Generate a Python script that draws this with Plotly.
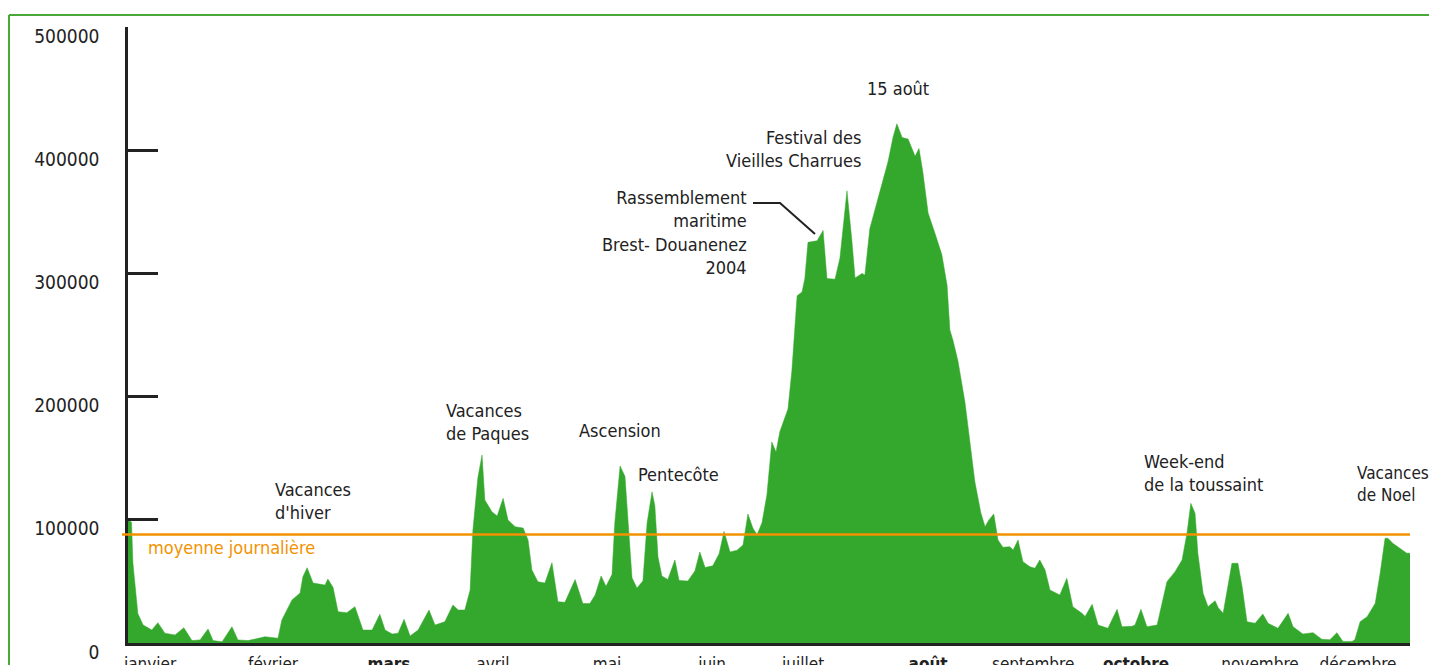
import plotly.graph_objects as go

# ---- data (day of year, daily visitors) ----
days = [0, 1, 1.4, 2.8, 4.3, 6.8, 8.5, 10.5, 13.4, 15.9, 18.2, 20.5, 22.8, 24.2, 26.8, 29.6, 31.3, 34.2,
        36.2, 39.0, 42.7, 43.8, 46.7, 49.0, 49.8, 51.0, 52.7, 56.1, 56.9, 58.4, 59.8, 62.3, 64.6, 66.9,
        69.5, 71.7, 73.2, 75.2, 76.9, 78.6, 80.3, 82.6, 85.7, 87.4, 90.2, 92.5, 94.0, 95.9, 97.4, 98.2,
        99.6, 100.8, 101.6, 103.6, 105.1, 106.8, 108.2, 110.2, 112.5, 113.9, 115.0, 116.7, 118.7, 120.7,
        122.4, 124.4, 127.3, 129.5, 131.5, 133.0, 134.7, 136.1, 137.8, 138.6, 140.1, 141.5, 142.4, 143.5,
        144.9, 146.6, 147.8, 149.2, 150.0, 150.9, 152.0, 153.7, 155.7, 156.9, 159.4, 161.4, 162.8, 164.3,
        166.5, 168.3, 169.7, 171.4, 173.4, 175.1, 176.5, 177.9, 179.1, 180.5, 181.9, 183.3, 184.5, 185.6,
        187.9, 189.0, 190.5, 191.9, 192.7, 193.6, 196.2, 197.9, 199.0, 201.3, 202.7, 204.7, 206.1, 207.0,
        209.0, 209.8, 211.2, 212.7, 214.7, 216.4, 217.8, 218.9, 220.4, 222.1, 224.1, 225.2, 226.3, 227.8,
        229.8, 231.7, 233.2, 234.0, 234.9, 236.3, 238.3, 239.7, 241.1, 242.8, 244.0, 245.1, 246.5, 247.7,
        249.1, 251.1, 252.0, 253.4, 254.8, 256.8, 258.2, 259.6, 261.1, 262.5, 265.3, 267.3, 269.0, 271.6,
        272.5, 274.5, 276.2, 279.0, 281.6, 283.0, 285.8, 286.7, 288.4, 290.1, 293.0, 294.4, 295.8, 298.1,
        300.1, 301.5, 302.6, 303.8, 304.6, 306.1, 307.5, 309.5, 310.4, 311.8, 312.9, 314.3, 316.0, 317.2,
        318.6, 320.9, 323.1, 324.6, 327.4, 328.8, 330.3, 331.7, 334.5, 337.4, 339.9, 342.2, 344.2, 345.9,
        348.5, 349.3, 350.8, 352.8, 355.1, 356.5, 357.9, 358.7, 360.1, 362.1, 364.1, 365.0]

visitors = [100000, 98000, 65000, 24000, 14600, 10500, 16500, 8000, 6500, 12400, 2000, 2500, 11400, 2000,
            1000, 13200, 2500, 2000, 3200, 5100, 3900, 18700, 35000, 40600, 53800, 61100, 48700, 47000,
            51900, 45000, 25400, 24600, 29500, 10500, 10500, 23300, 10500, 7300, 8000, 19200, 5700, 10500,
            26800, 14600, 17300, 30800, 26800, 26800, 43000, 91700, 134000, 152600, 116000, 106600, 103100,
            117400, 99800, 94400, 93300, 83600, 59300, 49800, 48700, 65200, 33500, 33000, 51500, 32000,
            32000, 39000, 54400, 46000, 55700, 97600, 143700, 135200, 97600, 52900, 44600, 50300, 97600,
            122700, 111500, 69800, 54400, 51500, 67400, 50800, 50300, 58400, 73900, 61300, 62700, 72400,
            90600, 73900, 75300, 79500, 104700, 93300, 87800, 97600, 120100, 163200, 155000, 171600, 189900,
            220500, 281800, 284900, 295800, 325200, 326500, 334900, 295800, 295300, 312500, 367000, 326500,
            296300, 300000, 298600, 336300, 351600, 372600, 390800, 410300, 421400, 410300, 409000, 395000,
            401400, 382300, 349000, 332100, 315300, 290300, 254100, 245500, 228900, 195300, 164800, 131100,
            105900, 94400, 99800, 104700, 83600, 77700, 78200, 75500, 83600, 66000, 61900, 60600, 67400,
            59300, 43000, 39000, 52500, 29500, 24100, 21600, 31400, 14600, 11900, 27300, 13200, 13500,
            14600, 27300, 13200, 14600, 32200, 49800, 57900, 67400, 89000, 113400, 105300, 72800, 40300,
            29500, 34300, 28700, 24100, 43000, 64700, 64700, 45700, 17300, 16000, 23500, 16000, 11900,
            17300, 24100, 13200, 7300, 8400, 3000, 2700, 8400, 1300, 1300, 2700, 17300, 21400, 32200, 56600,
            85000, 85000, 80900, 76900, 72800, 72800]

moyenne = 88000  # moyenne journalière

month_days = [6.3, 41.3, 74.3, 103.9, 136.4, 166.3, 192.2, 227.8, 257.7, 287.0, 322.3, 350.2]
month_labels = ["janvier", "février", "<b>mars</b>", "avril", "mai", "juin", "juillet", "<b>août</b>",
                "septembre", "<b>octobre</b>", "novembre", "décembre"]

y_ticks = [0, 100000, 200000, 300000, 400000, 500000]

FONT = "DejaVu Sans Condensed, Liberation Sans Narrow, Arial Narrow, sans-serif"
GREEN = "#34a82c"
ORANGE = "#f39200"
DARK = "#222222"

W, H = 1437, 665
OFF = 8  # page body margin
# plot area in page pixels
L, R, T, B = 128, 1410, 27, 643


def px(x):
    return (x - L) / (R - L)


def py(y):
    return (B - y) / (B - T)


fig = go.Figure()
fig.add_trace(go.Scatter(x=days, y=visitors, mode="lines", fill="tozeroy",
                         line=dict(color=GREEN, width=0.5), fillcolor=GREEN,
                         hoverinfo="x+y", showlegend=False))

shapes = [
    dict(type="line", xref="paper", yref="y", x0=px(122), x1=1, y0=moyenne, y1=moyenne,
         line=dict(color=ORANGE, width=2.5)),
    dict(type="line", xref="paper", yref="paper", x0=px(9), x1=px(1450), y0=py(15), y1=py(15),
         line=dict(color="#4aa83a", width=2)),
    dict(type="line", xref="paper", yref="paper", x0=px(9), x1=px(9), y0=py(15), y1=py(690),
         line=dict(color="#4aa83a", width=2)),
    dict(type="path", xref="paper", yref="paper",
         path=f"M {px(753)},{py(203)} L {px(780)},{py(203)} L {px(815)},{py(234)}",
         line=dict(color=DARK, width=2)),
]

ann_font = dict(family=FONT, size=18, color=DARK)
annotations = [
    dict(text="Vacances<br>d'hiver", x=px(273), y=py(501), xanchor="left", align="left"),
    dict(text="Vacances<br>de Paques", x=px(444), y=py(422), xanchor="left", align="left"),
    dict(text="Ascension", x=px(577), y=py(430), xanchor="left", align="left"),
    dict(text="Pentecôte", x=px(636), y=py(474), xanchor="left", align="left"),
    dict(text="Rassemblement<br>maritime<br>Brest- Douanenez<br>2004", x=px(749), y=py(233),
         xanchor="right", align="right"),
    dict(text="Festival des<br>Vieilles Charrues", x=px(863), y=py(149), xanchor="right", align="right"),
    dict(text="15 août", x=px(898), y=py(88), xanchor="center", align="center"),
    dict(text="Week-end<br>de la toussaint", x=px(1142), y=py(473), xanchor="left", align="left"),
    dict(text="Vacances<br>de Noel", x=px(1355), y=py(484), xanchor="left", align="left",
         font=dict(family=FONT, size=17, color=DARK)),
]
for a in annotations:
    a.setdefault("font", ann_font)
    a.update(xref="paper", yref="paper", yanchor="middle", showarrow=False)
annotations.append(dict(text="moyenne journalière", x=px(146), y=py(547), xref="paper", yref="paper",
                        xanchor="left", yanchor="middle", showarrow=False,
                        font=dict(family=FONT, size=18, color=ORANGE)))

fig.update_layout(
    width=W, height=H,
    margin=dict(l=L - OFF, r=W - (R - OFF), t=T - OFF, b=H - (B - OFF), pad=0, autoexpand=False),
    paper_bgcolor="white", plot_bgcolor="white",
    shapes=shapes, annotations=annotations,
    font=dict(family=FONT, color=DARK),
    xaxis=dict(range=[0, 365], showgrid=False, zeroline=False, showline=True, linecolor=DARK,
               linewidth=3, ticks="", tickmode="array", tickvals=month_days, ticktext=month_labels,
               tickfont=dict(family=FONT, size=17, color=DARK), ticklabelstandoff=4,
               automargin=False),
    yaxis=dict(range=[0, 500000], showgrid=False, zeroline=False, showline=True, linecolor=DARK,
               linewidth=2.5, ticks="inside", ticklen=30, tickwidth=2.5, tickcolor=DARK,
               tickmode="array", tickvals=y_ticks, ticktext=[str(v) for v in y_ticks],
               tickfont=dict(family=FONT, size=19, color=DARK), ticklabelstandoff=22,
               ticklabelshift=9, automargin=False),
)

fig.write_html("out.html")
